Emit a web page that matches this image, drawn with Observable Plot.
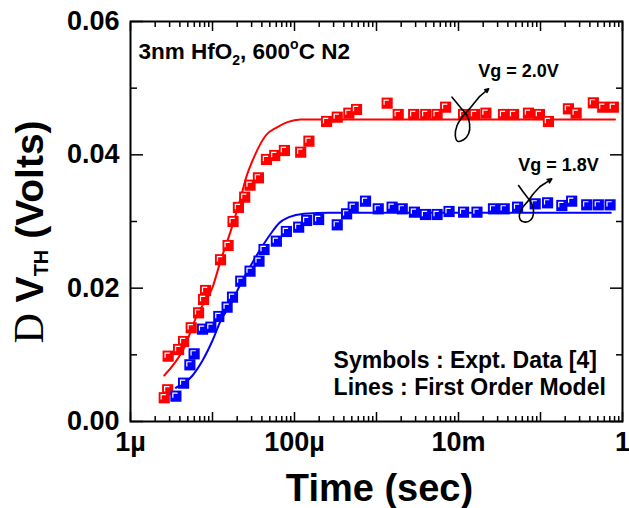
<!DOCTYPE html>
<html><head><meta charset="utf-8">
<script src="https://cdn.jsdelivr.net/npm/d3@7"></script>
<script src="https://cdn.jsdelivr.net/npm/@observablehq/plot@0.6"></script>
<style>
body{margin:0;background:#fff;}
#chart svg{display:block;}
</style></head><body><div id="chart"></div>
<script>
// ---- data (time in seconds, ΔVth in volts) ----
const redTime = [2.58e-6,2.84e-6,2.88e-6,3.86e-6,4.44e-6,5.50e-6,6.76e-6,7.78e-6,8.23e-6,1.253e-5,1.55e-5,1.78e-5,2.07e-5,2.47e-5,2.87e-5,3.63e-5,4.55e-5,5.74e-5,7.53e-5,1.19e-4,1.50e-4,2.46e-4,3.32e-4,4.60e-4,5.71e-4,1.349e-3,1.84e-3,2.84e-3,3.98e-3,5.48e-3,6.97e-3,1.153e-2,1.57e-2,2.16e-2,3.54e-2,4.69e-2,7.13e-2,9.70e-2,0.125,0.219,0.272,0.441,0.574,0.773];
const redDvth = [0.00356,0.00476,0.0098,0.0108,0.0120,0.01406,0.0163,0.0183,0.01965,0.02426,0.0264,0.0300,0.0321,0.03365,0.03545,0.03655,0.0393,0.0399,0.04065,0.0404,0.04205,0.0450,0.04565,0.04625,0.0468,0.04775,0.04605,0.04605,0.04605,0.04605,0.04715,0.04605,0.04605,0.04625,0.04605,0.04605,0.04625,0.04605,0.0450,0.0469,0.04625,0.0478,0.04715,0.04715];
const blueTime = [3.58e-6,4.44e-6,5.30e-6,5.97e-6,7.56e-6,9.55e-6,1.194e-5,1.507e-5,1.754e-5,2.21e-5,2.87e-5,3.69e-5,4.25e-5,6.01e-5,7.96e-5,1.124e-4,1.406e-4,1.97e-4,3.32e-4,4.32e-4,5.20e-4,7.35e-4,1.05e-3,1.55e-3,2.06e-3,2.90e-3,3.95e-3,5.48e-3,7.67e-3,1.153e-2,1.68e-2,2.67e-2,3.61e-2,5.25e-2,8.61e-2,0.122,0.182,0.240,0.366,0.507,0.705];
const blueDvth = [0.0038,0.00575,0.0085,0.01015,0.01385,0.01415,0.01575,0.01715,0.01865,0.02105,0.02255,0.02405,0.0258,0.02705,0.0285,0.02915,0.03015,0.0303,0.0295,0.03115,0.03215,0.03305,0.0319,0.03215,0.0319,0.0314,0.03105,0.03105,0.0315,0.0314,0.0314,0.0319,0.0319,0.03215,0.03265,0.0328,0.0324,0.03305,0.0325,0.0325,0.0325];
const redModelTime = [2.58e-6,4.52e-6,6.58e-6,1.0e-5,1.262e-5,1.67e-5,2.21e-5,2.55e-5,3.21e-5,4.46e-5,6.18e-5,8.19e-5,1.19e-4,2.5e-4,0.81];
const redModelDvth = [0.0069,0.0111,0.01615,0.0201,0.0242,0.0286,0.0336,0.03645,0.03965,0.0429,0.04415,0.0449,0.0453,0.0453,0.0453];
const blueModelTime = [3.58e-6,5.71e-6,7.56e-6,1.0e-5,1.262e-5,1.67e-5,2.21e-5,2.93e-5,3.87e-5,5.13e-5,6.47e-5,8.57e-5,1.30e-4,2.75e-4,0.72];
const blueModelDvth = [0.00506,0.0069,0.00915,0.01215,0.01515,0.01765,0.02066,0.0234,0.0259,0.02816,0.02975,0.03065,0.03116,0.0313,0.0313];
// hand-drawn annotation strokes
const redMarkTime = [8.34e-3,1.052e-2,1.27e-2,1.366e-2,1.328e-2,1.153e-2,9.75e-3,9.14e-3,9.6e-3,1.104e-2,1.328e-2,1.528e-2,1.807e-2];
const redMarkDvth = [0.04865,0.04715,0.0459,0.04466,0.04316,0.04226,0.04205,0.0429,0.0444,0.04565,0.04676,0.04766,0.04875];
const redArrowTip = [2.328e-2, 0.0499];
const blueMarkTime = [5.40e-2,6.19e-2,7.13e-2,7.98e-2,8.2e-2,7.64e-2,6.5e-2,5.65e-2,5.55e-2,6.1e-2,7.13e-2,8.2e-2,9.91e-2];
const blueMarkDvth = [0.0354,0.0344,0.0334,0.0324,0.03116,0.03026,0.0299,0.03026,0.03116,0.03215,0.03315,0.03416,0.03525];
const blueArrowTip = [0.1374, 0.0364];
// ticks
const xTickValues = [1e-6,1e-4,1e-2,1];
const xTickLabels = ["1µ","100µ","10m","1"];
const xDecades = [1e-6,1e-5,1e-4,1e-3,1e-2,1e-1,1];
const yTickValues = [0,0.02,0.04,0.06];
const yTickLabels = ["0.00","0.02","0.04","0.06"];
const yMinorValues = [0.01,0.03,0.05];
const annotations = [
  {label:"Vg = 2.0V", t:1.74e-2, v:0.0525},
  {label:"Vg = 1.8V", t:5.35e-2, v:0.0385},
  {label:"Symbols : Expt. Data [4]", t:3.0e-4, v:0.0091},
  {label:"Lines : First Order Model", t:3.0e-4, v:0.0051}
];

// ---- build ----
const zip = (a,b) => a.map((t,i)=>({t, v:b[i]}));
const red = zip(redTime, redDvth), blue = zip(blueTime, blueDvth);
const redModel = zip(redModelTime, redModelDvth), blueModel = zip(blueModelTime, blueModelDvth);
const redMark = zip(redMarkTime, redMarkDvth), blueMark = zip(blueMarkTime, blueMarkDvth);
const xMinor = xDecades.slice(0,-1).flatMap(d => [2,3,4,5,6,7,8,9].map(k => d*k));

const SANS = "Arial, 'Liberation Sans', Helvetica, sans-serif";
const gamma = {draw(ctx, size){ const s = Math.sqrt(size)/2; ctx.moveTo(-s*0.55, s*0.3); ctx.lineTo(-s*0.55, -s*0.55); ctx.lineTo(s*0.3, -s*0.55); }};
const R = 6.3;

const plot = Plot.plot({
  width: 629, height: 508,
  marginLeft: 130, marginRight: 7, marginTop: 21, marginBottom: 87,
  x: {type: "log", domain: [1e-6, 1]},
  y: {domain: [0, 0.06]},
  style: {fontFamily: SANS, background: "white", color: "black"},
  marks: [
    // inward ticks
    Plot.axisX(xDecades, {anchor: "bottom", tickSize: -9, fill: "none", strokeWidth: 1.5, label: null}),
    Plot.axisX(xMinor, {anchor: "bottom", tickSize: -5, fill: "none", strokeWidth: 1.5, label: null}),
    Plot.axisX(xDecades, {anchor: "top", tickSize: -9, fill: "none", strokeWidth: 1.5, label: null}),
    Plot.axisX(xMinor, {anchor: "top", tickSize: -5, fill: "none", strokeWidth: 1.5, label: null}),
    Plot.axisY(yTickValues, {anchor: "left", tickSize: -13, fill: "none", strokeWidth: 1.5, label: null}),
    Plot.axisY(yMinorValues, {anchor: "left", tickSize: -7, fill: "none", strokeWidth: 1.5, label: null}),
    Plot.axisY(yTickValues, {anchor: "right", tickSize: -13, fill: "none", strokeWidth: 1.5, label: null}),
    Plot.axisY(yMinorValues, {anchor: "right", tickSize: -7, fill: "none", strokeWidth: 1.5, label: null}),
    // tick labels
    Plot.axisX(xTickValues, {anchor: "bottom", tickSize: 0, tickPadding: 10, label: null,
      tickFormat: d => xTickLabels[xTickValues.indexOf(d)], fontSize: 27, fontWeight: "bold"}),
    Plot.axisY(yTickValues, {anchor: "left", tickSize: 0, tickPadding: 11, label: null,
      tickFormat: d => yTickLabels[yTickValues.indexOf(d)], fontSize: 27, fontWeight: "bold"}),
    Plot.frame({stroke: "black", strokeWidth: 2}),
    // model lines
    Plot.line(redModel, {x: "t", y: "v", stroke: "#ff0000", strokeWidth: 2, curve: "monotone-x"}),
    Plot.line(blueModel, {x: "t", y: "v", stroke: "#0000ff", strokeWidth: 2, curve: "monotone-x"}),
    // experimental symbols
    Plot.dot(red, {x: "t", y: "v", symbol: "square", r: R, fill: "#ff0000", stroke: "none"}),
    Plot.dot(red, {x: "t", y: "v", symbol: gamma, r: R, fill: "none", stroke: "white", strokeWidth: 1.2}),
    Plot.dot(blue, {x: "t", y: "v", symbol: "square", r: R, fill: "#0000ff", stroke: "none"}),
    Plot.dot(blue, {x: "t", y: "v", symbol: gamma, r: R, fill: "none", stroke: "white", strokeWidth: 1.2}),
    // hand-drawn marks
    Plot.line(redMark, {x: "t", y: "v", stroke: "black", strokeWidth: 1.6, curve: "catmull-rom"}),
    Plot.line(blueMark, {x: "t", y: "v", stroke: "black", strokeWidth: 1.6, curve: "catmull-rom"}),
    Plot.arrow([{t1: redMarkTime.at(-1), v1: redMarkDvth.at(-1), t2: redArrowTip[0], v2: redArrowTip[1]}],
      {x1: "t1", y1: "v1", x2: "t2", y2: "v2", stroke: "black", fill: "black", strokeWidth: 1.6, headLength: 9, headAngle: 50}),
    Plot.arrow([{t1: blueMarkTime.at(-1), v1: blueMarkDvth.at(-1), t2: blueArrowTip[0], v2: blueArrowTip[1]}],
      {x1: "t1", y1: "v1", x2: "t2", y2: "v2", stroke: "black", fill: "black", strokeWidth: 1.6, headLength: 9, headAngle: 50}),
    // annotation texts
    Plot.text(annotations.slice(0,2), {x: "t", y: "v", text: "label", textAnchor: "start", fontSize: 18, fontWeight: "bold", fill: "black"}),
    Plot.text(annotations.slice(2), {x: "t", y: "v", text: "label", textAnchor: "start", fontSize: 23, fontWeight: "bold", fill: "black"})
  ]
});
document.getElementById("chart").appendChild(plot);

// rich texts: title, axis titles
const svg = d3.select(plot);
const xs = plot.scale("x"), ys = plot.scale("y");
const fLeft = xs.apply(1e-6), fRight = xs.apply(1), fTop = ys.apply(0.06), fBottom = ys.apply(0);

const title = svg.append("text").attr("x", fLeft + 8.5).attr("y", fTop + 38)
  .attr("text-anchor", "start")
  .style("font-family", SANS).style("font-weight", "bold").style("font-size", "22.5px");
title.append("tspan").text("3nm HfO");
title.append("tspan").text("2").attr("dy", 6).style("font-size", "14px");
title.append("tspan").text(", 600").attr("dy", -6);
title.append("tspan").text("o").attr("dy", -10).style("font-size", "14px");
title.append("tspan").text("C N2").attr("dy", 10);

svg.append("text").attr("x", (fLeft + fRight) / 2 + 3.5).attr("y", fBottom + 80)
  .attr("text-anchor", "middle")
  .style("font-family", SANS).style("font-weight", "bold").style("font-size", "38px")
  .text("Time (sec)");

const yl = svg.append("text")
  .attr("transform", `translate(43,${(fTop + fBottom) / 2 + 11}) rotate(-90)`)
  .attr("text-anchor", "middle")
  .style("font-family", SANS).style("font-weight", "bold").style("font-size", "39px");
yl.append("tspan").text("D").style("font-family", "'Liberation Serif', 'Times New Roman', serif").style("font-weight", "normal").style("font-size", "42px");
yl.append("tspan").text(" V");
yl.append("tspan").text("TH").style("font-size", "20px").attr("dy", 5);
yl.append("tspan").text(" (Volts)").attr("dy", -5);
</script>
</body></html>
